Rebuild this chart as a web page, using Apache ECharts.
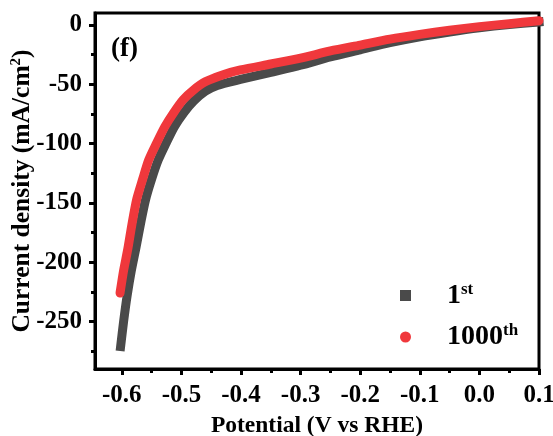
<!DOCTYPE html>
<html><head><meta charset="utf-8">
<script src="https://cdn.jsdelivr.net/npm/echarts@6/dist/echarts.min.js"></script>
<style>html,body{margin:0;padding:0;background:#fff}#c{width:553px;height:436px}</style>
</head><body><div id="c"></div>
<script>
var seriesNames = ['1st', '1000th'];
var x1st = [-0.602, -0.597, -0.591, -0.584, -0.576, -0.568, -0.560, -0.550, -0.539, -0.526, -0.512, -0.496, -0.479, -0.460, -0.440, -0.401, -0.350, -0.300, -0.250, -0.200, -0.150, -0.100, -0.050, 0.000, 0.050, 0.100];
var y1st = [-271, -250, -228, -207, -187, -166, -147, -130, -114, -100, -86, -74, -64, -56, -51, -46, -40, -34, -27, -21, -15, -10, -6, -2.5, 0.3, 2.5];
var x1000 = [-0.603, -0.597, -0.590, -0.583, -0.575, -0.565, -0.555, -0.542, -0.528, -0.513, -0.497, -0.480, -0.460, -0.430, -0.401, -0.350, -0.300, -0.250, -0.200, -0.150, -0.100, -0.050, 0.000, 0.050, 0.100];
var y1000 = [-226, -207, -189, -168, -147, -130, -114, -100, -86, -74, -63, -55, -48, -42, -38, -33, -28, -22, -17, -12, -8, -4.5, -1.5, 1, 3.5];
var xTicks = [-0.6, -0.5, -0.4, -0.3, -0.2, -0.1, 0.0, 0.1];
var xMinor = [-0.55, -0.45, -0.35, -0.25, -0.15, -0.05, 0.05];
var yTicks = [-250, -200, -150, -100, -50, 0];
var yMinor = [-275, -225, -175, -125, -75, -25];

function pairs(xs, ys) { return xs.map(function (x, i) { return [x, ys[i]]; }); }
var FONT = '"Liberation Serif","Times New Roman",serif';
var chart = echarts.init(document.getElementById('c'));
var XMIN = -0.645, XMAX = 0.1, YMIN = -290, YMAX = 10;
chart.setOption({
  animation: false,
  grid: { left: 95, right: 14, top: 13, bottom: 67, outerBoundsMode: 'none', containLabel: false, show: true, borderColor: '#000', borderWidth: 3, backgroundColor: 'transparent' },
  title: { text: '(f)', left: 106, top: 31, textStyle: { fontFamily: FONT, fontWeight: 'bold', fontSize: 27, color: '#000' } },
  legend: {
    orient: 'vertical', left: 395, top: 276, itemWidth: 11, itemHeight: 11, itemGap: 13,
    data: [{ name: seriesNames[0], icon: 'rect' }, { name: seriesNames[1], icon: 'circle' }],
    formatter: function (n) { var m = n.match(/^(\d+)(\D+)$/); return '{g|}{a|' + m[1] + '}{s|' + m[2] + '}'; },
    textStyle: {
      fontFamily: FONT, fontWeight: 'bold', color: '#000',
      rich: {
        g: { width: 31 },
        a: { fontFamily: FONT, fontWeight: 'bold', fontSize: 28, color: '#000' },
        s: { fontFamily: FONT, fontWeight: 'bold', fontSize: 17, color: '#000', verticalAlign: 'top', padding: [0, 0, 12, 0] }
      }
    }
  },
  xAxis: [{
    type: 'value', min: XMIN, max: XMAX,
    name: 'Potential (V vs RHE)', nameLocation: 'middle', nameGap: 45, nameMoveOverlap: false,
    nameTextStyle: { fontFamily: FONT, fontWeight: 'bold', fontSize: 23.5, color: '#000' },
    axisLine: { show: true, onZero: false, lineStyle: { color: '#000', width: 3 } },
    axisTick: { show: true, customValues: xTicks, length: 6, lineStyle: { color: '#000', width: 3 } },
    axisLabel: { customValues: xTicks, formatter: function (v) { return v.toFixed(1); }, fontFamily: FONT, fontWeight: 'bold', fontSize: 25, color: '#000', margin: 14 },
    splitLine: { show: false }
  }, {
    type: 'value', min: XMIN, max: XMAX, position: 'bottom',
    axisLine: { show: false, onZero: false },
    axisTick: { show: true, customValues: xMinor, length: 4, lineStyle: { color: '#000', width: 3 } },
    axisLabel: { show: false }, splitLine: { show: false }
  }],
  yAxis: [{
    type: 'value', min: YMIN, max: YMAX,
    name: 'Current density (mA/cm{s|2})', nameLocation: 'middle', nameGap: 60, nameMoveOverlap: false,
    nameTextStyle: { fontFamily: FONT, fontWeight: 'bold', fontSize: 25.5, color: '#000',
      rich: { s: { fontFamily: FONT, fontWeight: 'bold', fontSize: 15, color: '#000', verticalAlign: 'top', padding: [0, 0, 10, 0] } } },
    axisLine: { show: true, onZero: false, lineStyle: { color: '#000', width: 3 } },
    axisTick: { show: true, customValues: yTicks, length: 6, lineStyle: { color: '#000', width: 3 } },
    axisLabel: { customValues: yTicks, fontFamily: FONT, fontWeight: 'bold', fontSize: 25, color: '#000', margin: 13 },
    splitLine: { show: false }
  }, {
    type: 'value', min: YMIN, max: YMAX, position: 'left', offset: 0,
    axisLine: { show: false, onZero: false },
    axisTick: { show: true, customValues: yMinor, length: 4, lineStyle: { color: '#000', width: 3 } },
    axisLabel: { show: false }, splitLine: { show: false }
  }],
  series: [{
    name: seriesNames[0], type: 'line', data: pairs(x1st, y1st), smooth: 0.25,
    symbol: 'rect', showSymbol: false, color: '#4a4a4a',
    lineStyle: { width: 9, color: '#4a4a4a', cap: 'square', join: 'round' }
  }, {
    name: seriesNames[1], type: 'line', data: pairs(x1000, y1000), smooth: 0.25,
    symbol: 'circle', showSymbol: false, color: '#f0383c',
    lineStyle: { width: 9, color: '#f0383c', cap: 'round', join: 'round' }
  }]
});
</script></body></html>
